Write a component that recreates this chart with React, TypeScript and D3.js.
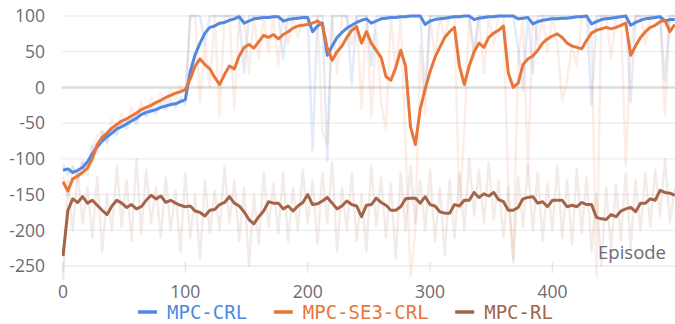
import React from "react";
import * as d3 from "d3";

// one value every STEP episodes, episode 0 .. 500
const STEP = 4;

const seriesNames = ["MPC-CRL", "MPC-SE3-CRL", "MPC-RL"];
const seriesColors = ["#5288e0", "#e8763a", "#a3644a"];
const yTicks = [100, 50, 0, -50, -100, -150, -200, -250];
const xTicks = [0, 100, 200, 300, 400];

// smoothed curves
const crlSmooth = [
  -116, -114, -119, -116, -112, -104, -93, -83, -75, -69, -64, -58, -55, -51, -47, -43,
  -38, -35, -33, -31, -28, -26, -24, -23, -20, -17, 22, 46, 62, 76, 84, 86,
  90, 91, 94, 96, 99, 90, 93, 96, 97, 98, 98, 99, 99, 93, 95, 96,
  97, 98, 98, 78, 86, 90, 45, 58, 70, 77, 83, 87, 91, 94, 96, 90,
  93, 96, 97, 98, 98, 99, 99, 100, 100, 100, 88, 93, 95, 96, 97, 98,
  99, 99, 100, 100, 95, 97, 98, 99, 99, 100, 100, 100, 100, 96, 97, 98,
  89, 92, 94, 95, 96, 96, 97, 97, 98, 99, 99, 100, 89, 92, 95, 96,
  97, 98, 99, 100, 87, 91, 94, 96, 97, 98, 99, 93, 95, 95,
];

const se3Smooth = [
  -132, -145, -128, -124, -119, -113, -100, -80, -70, -64, -57, -52, -47, -44, -40, -36,
  -31, -28, -25, -21, -18, -14, -11, -8, -6, -3, 12, 30, 40, 32, 26, 14,
  4, 18, 30, 26, 44, 56, 60, 55, 64, 73, 70, 74, 68, 74, 78, 83,
  86, 87, 88, 90, 93, 88, 55, 38, 50, 58, 70, 80, 85, 62, 78, 62,
  52, 42, 15, 10, 28, 52, 30, -55, -80, -30, -2, 22, 42, 56, 70, 78,
  84, 30, 4, 30, 50, 62, 56, 70, 76, 80, 86, 20, 0, 6, 32, 40,
  44, 52, 62, 68, 72, 75, 70, 62, 58, 56, 54, 66, 76, 80, 82, 84,
  82, 84, 87, 90, 45, 58, 70, 78, 84, 87, 92, 94, 78, 88,
];

const rlSmooth = [
  -236, -172, -156, -161, -153, -162, -158, -165, -172, -178, -166, -158, -162, -168, -164, -170,
  -167, -158, -151, -156, -152, -161, -158, -162, -165, -167, -166, -173, -175, -180, -172, -171,
  -164, -161, -153, -162, -166, -174, -185, -191, -181, -173, -160, -162, -162, -170, -166, -173,
  -166, -161, -150, -164, -163, -159, -154, -162, -170, -166, -159, -164, -166, -181, -165, -164,
  -155, -161, -165, -172, -172, -167, -156, -155, -155, -162, -153, -164, -166, -174, -176, -176,
  -164, -166, -158, -158, -147, -154, -149, -152, -147, -157, -160, -172, -172, -168, -156, -154,
  -153, -162, -160, -167, -158, -158, -158, -167, -165, -167, -161, -164, -164, -182, -184, -185,
  -178, -181, -173, -170, -168, -174, -162, -162, -156, -158, -144, -147, -148, -151,
];

// raw episode returns
const crlRaw = [
  -108, -123, -110, -126, -102, -112, -82, -92, -62, -78, -55, -67, -48, -58, -40, -52,
  -30, -42, -27, -37, -22, -32, -18, -28, -14, -24, 100, 100, 100, 60, 100, 100,
  100, 100, 100, 100, 100, 20, 100, 100, 100, 100, 100, 100, 100, 40, 100, 100,
  100, 100, 100, -88, 100, 100, -103, 100, 100, 100, 100, 5, 100, 100, 100, 30,
  100, 100, 100, 100, 100, 100, 100, 100, 100, 100, -10, 100, 100, 100, 100, 100,
  100, 100, 100, 100, 50, 100, 100, 100, 100, 100, 100, 100, 100, 55, -5, 100,
  20, 100, 100, 100, 100, 100, 100, 100, 100, 100, 100, 100, -25, 100, 100, 100,
  100, 100, 100, 100, -20, 100, 100, 100, 100, 100, 100, 10, 100, 100,
];

const se3Raw = [
  -125, -152, -112, -132, -106, -124, -84, -68, -60, -76, -44, -60, -36, -52, -28, -46,
  -20, -38, -14, -30, -8, -26, -2, -18, 2, -12, 100, 100, -20, 60, 0, 100,
  -40, 100, 100, -30, 100, 100, 20, 100, 40, 100, 50, 100, 30, 100, 60, 100,
  70, 100, 90, 100, 100, -60, -80, 100, 20, 100, 100, 60, 100, -30, 100, -40,
  80, -20, -60, 100, 20, 100, -80, -265, -200, 60, -40, 100, 40, 100, 70, 100,
  100, -170, -60, 100, 40, 100, 20, 100, 60, 100, 100, -150, -240, 40, 100, -120,
  100, 60, 100, 50, 100, 60, -20, 10, 60, 30, 100, 100, 70, -265, 100, 100,
  40, 100, 100, -110, 60, 100, 100, 60, 100, 100, 100, -40, 100, 100,
];

const rlRaw = [
  -270, -130, -200, -120, -190, -140, -210, -125, -230, -150, -200, -110, -195, -130, -215, -100,
  -205, -115, -190, -140, -210, -125, -200, -145, -230, -120, -210, -150, -240, -130, -205, -145,
  -200, -110, -190, -130, -215, -140, -250, -150, -220, -120, -195, -135, -205, -120, -215, -140,
  -200, -115, -190, -130, -220, -120, -190, -105, -230, -140, -200, -120, -215, -150, -230, -110,
  -195, -125, -210, -135, -240, -120, -200, -110, -190, -130, -200, -115, -215, -140, -235, -130,
  -210, -120, -200, -100, -180, -115, -190, -105, -185, -130, -210, -140, -245, -125, -195, -110,
  -200, -120, -215, -135, -200, -110, -210, -130, -220, -115, -205, -125, -230, -150, -250, -140,
  -230, -135, -215, -120, -225, -130, -200, -120, -195, -115, -180, -100, -190, -140,
];

const smoothSeries = [crlSmooth, se3Smooth, rlSmooth];
const rawSeries = [crlRaw, se3Raw, rlRaw];

const W = 675;
const H = 324;

export default function App() {
  const x = d3.scaleLinear().domain([0, 500]).range([63, 674.75]);
  const y = d3.scaleLinear().domain([-250, 100]).range([266, 16]);
  const line = d3
    .line<number>()
    .x((_, i) => x(i * STEP))
    .y((d) => y(d));

  const tickFont = { fontFamily: "'Open Sans', sans-serif", fontSize: 17.5, fill: "#6b6b75" };

  // legend layout, monospace text
  const charW = 11.4;
  let cursor = 138;
  const legend = seriesNames.map((name, i) => {
    const item = { name, color: seriesColors[i], x: cursor };
    cursor += 29 + name.length * charW + 27;
    return item;
  });

  return (
    <svg
      width={W}
      height={H}
      style={{ position: "absolute", left: 0, top: 0, background: "#fff" }}
    >
      <defs>
        <clipPath id="plot">
          <rect x={62} y={0} width={W - 62} height={283} />
        </clipPath>
      </defs>

      {yTicks.map((t) => (
        <line
          key={"g" + t}
          x1={62}
          x2={W}
          y1={y(t)}
          y2={y(t)}
          stroke={t === 0 ? "#dcdcdc" : "#ededed"}
          strokeWidth={t === 0 ? 2.6 : 1.3}
        />
      ))}
      {xTicks.map((t) => (
        <line
          key={"xt" + t}
          x1={x(t)}
          x2={x(t)}
          y1={262}
          y2={273}
          stroke="#e4e4e4"
          strokeWidth={1.2}
        />
      ))}

      <g clipPath="url(#plot)">
        {rawSeries.map((s, i) => (
          <path
            key={"raw" + i}
            d={line(s) || ""}
            fill="none"
            stroke={seriesColors[i]}
            strokeOpacity={i === 0 ? 0.17 : 0.13}
            strokeWidth={2.4}
            strokeLinejoin="round"
          />
        ))}
        {smoothSeries.map((s, i) => (
          <path
            key={"sm" + i}
            d={line(s) || ""}
            fill="none"
            stroke={seriesColors[i]}
            strokeWidth={3}
            strokeLinejoin="round"
          />
        ))}
      </g>

      {yTicks.map((t) => (
        <text key={"yl" + t} x={45} y={y(t)} dy="0.36em" textAnchor="end" {...tickFont}>
          {t}
        </text>
      ))}
      {xTicks.map((t) => (
        <text key={"xl" + t} x={x(t)} y={298} textAnchor="middle" {...tickFont}>
          {t}
        </text>
      ))}
      <text x={666} y={259} textAnchor="end" {...tickFont} fontSize={18.5}>
        Episode
      </text>

      {legend.map((d) => (
        <g key={d.name}>
          <line
            x1={d.x}
            x2={d.x + 19}
            y1={312}
            y2={312}
            stroke={d.color}
            strokeWidth={3.5}
          />
          <text
            x={d.x + 29}
            y={319}
            fill={d.color}
            fontFamily="'DejaVu Sans Mono', monospace"
            fontSize={19}
          >
            {d.name}
          </text>
        </g>
      ))}
    </svg>
  );
}
